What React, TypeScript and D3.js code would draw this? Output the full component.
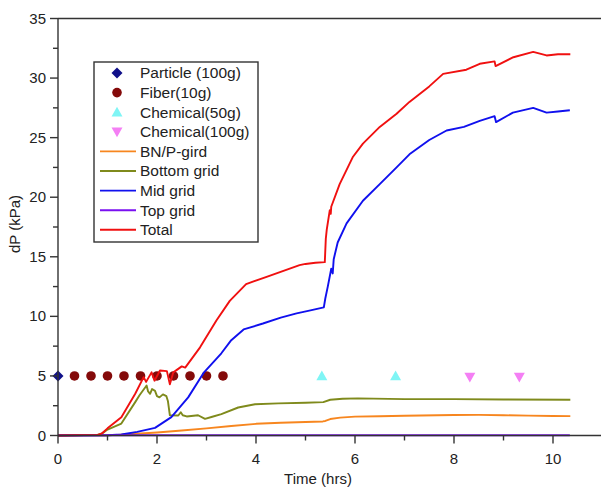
import React from "react";
import * as d3 from "d3";

const W = 601;
const H = 488;

// Scatter series (time in hrs, dP in kPa)
const particleT = [0];
const particleV = [5];
const fiberT = [0.333, 0.667, 1.0, 1.333, 1.667, 2.0, 2.333, 2.667, 3.0, 3.333];
const fiberV = [5, 5, 5, 5, 5, 5, 5, 5, 5, 5];
const chem50T = [5.33, 6.82];
const chem50V = [5.0, 5.0];
const chem100T = [8.32, 9.32];
const chem100V = [4.9, 4.9];

// Line series
const bnpT = [0, 1.0, 1.2, 1.5, 2.0, 2.5, 3.0, 3.5, 4.0, 4.5, 5.0, 5.35, 5.4, 5.5, 5.7, 6.0, 6.5, 7.0, 8.0, 8.5, 9.0, 9.5, 10.0, 10.35];
const bnpV = [0, 0.01, 0.05, 0.12, 0.25, 0.42, 0.6, 0.8, 0.98, 1.07, 1.13, 1.18, 1.22, 1.38, 1.5, 1.58, 1.62, 1.66, 1.72, 1.73, 1.7, 1.67, 1.64, 1.63];

const bottomT = [0, 0.8, 0.9, 1.0, 1.28, 1.56, 1.65, 1.79, 1.82, 1.86, 1.9, 1.96, 2.0, 2.05, 2.12, 2.19, 2.22, 2.26, 2.43, 2.48, 2.52, 2.6, 2.83, 2.97, 3.1, 3.3, 3.64, 3.98, 4.45, 5.0, 5.36, 5.5, 5.75, 6.06, 7.0, 8.0, 9.0, 10.35];
const bottomV = [0, 0.05, 0.2, 0.5, 1.0, 2.8, 3.4, 4.2, 3.7, 3.5, 3.9, 3.75, 3.3, 3.2, 3.45, 3.3, 2.9, 1.7, 1.68, 1.95, 1.7, 1.6, 1.7, 1.4, 1.55, 1.8, 2.35, 2.62, 2.7, 2.75, 2.8, 3.0, 3.08, 3.12, 3.05, 3.05, 3.02, 3.0];

const midT = [0, 1.0, 1.28, 1.6, 1.96, 2.29, 2.63, 2.95, 3.3, 3.5, 3.75, 4.14, 4.5, 4.82, 5.1, 5.37, 5.4, 5.45, 5.52, 5.55, 5.57, 5.65, 5.83, 6.16, 6.5, 6.84, 7.1, 7.5, 7.85, 8.2, 8.52, 8.82, 8.85, 9.19, 9.6, 9.87, 10.1, 10.34];
const midV = [0, 0.02, 0.08, 0.3, 0.64, 1.54, 3.2, 5.3, 6.9, 8.0, 8.9, 9.4, 9.9, 10.25, 10.5, 10.75, 11.5, 12.5, 14.0, 13.6, 14.8, 16.2, 17.8, 19.7, 21.1, 22.5, 23.6, 24.8, 25.6, 25.9, 26.4, 26.8, 26.3, 27.1, 27.5, 27.1, 27.2, 27.3];

const topT = [0, 10.34];
const topV = [0.02, 0.02];

const totalT = [0, 0.8, 0.88, 1.0, 1.28, 1.56, 1.73, 1.78, 1.89, 1.95, 2.06, 2.2, 2.26, 2.33, 2.5, 2.57, 2.87, 3.2, 3.47, 3.8, 4.2, 4.88, 5.0, 5.2, 5.39, 5.41, 5.43, 5.49, 5.51, 5.52, 5.69, 5.96, 6.16, 6.5, 6.84, 7.1, 7.5, 7.78, 8.25, 8.52, 8.82, 8.84, 9.2, 9.6, 9.87, 10.1, 10.35];
const totalV = [0, 0.05, 0.15, 0.6, 1.54, 3.5, 4.9, 4.5, 5.3, 4.6, 5.45, 5.4, 4.3, 5.3, 5.8, 5.7, 7.4, 9.65, 11.3, 12.7, 13.3, 14.3, 14.4, 14.5, 14.55, 16.5, 17.3, 18.9, 18.6, 19.2, 21.1, 23.4, 24.5, 25.9, 27.0, 28.0, 29.3, 30.35, 30.7, 31.2, 31.4, 31.0, 31.75, 32.2, 31.9, 32.0, 32.0];

const xMajor = [0, 2, 4, 6, 8, 10];
const xMinor = [1, 3, 5, 7, 9, 11];
const yMajor = [0, 5, 10, 15, 20, 25, 30, 35];
const yMinor = [2.5, 7.5, 12.5, 17.5, 22.5, 27.5, 32.5];

const legendLabels = ["Particle (100g)", "Fiber(10g)", "Chemical(50g)", "Chemical(100g)", "BN/P-gird", "Bottom grid", "Mid grid", "Top grid", "Total"];

const C = {
  particle: "#10108a",
  fiber: "#840a0a",
  chem50: "#7ff5f5",
  chem100: "#f47ff4",
  bnp: "#f7861f",
  bottom: "#7f8a1c",
  mid: "#1010ee",
  top: "#7a10f0",
  total: "#f01010",
  axis: "#333333",
};

const FONT = "'Liberation Sans', Arial, Helvetica, sans-serif";

const x = d3.scaleLinear().domain([0, 10]).range([58, 553]);
const y = d3.scaleLinear().domain([0, 35]).range([435.5, 18.5]);

const zip = (t: number[], v: number[]) => t.map((tt, i) => [tt, v[i]] as [number, number]);
const line = d3.line<[number, number]>().x((d) => x(d[0])).y((d) => y(d[1]));

function Marker({ kind, cx, cy, color }: { kind: string; cx: number; cy: number; color: string }) {
  if (kind === "diamond") {
    const s = 5.5;
    return <path d={`M${cx},${cy - s}L${cx + s},${cy}L${cx},${cy + s}L${cx - s},${cy}Z`} fill={color} />;
  }
  if (kind === "circle") return <circle cx={cx} cy={cy} r={4.8} fill={color} />;
  if (kind === "up") {
    const s = 5.5;
    return <path d={`M${cx},${cy - s}L${cx + s},${cy + s * 0.8}L${cx - s},${cy + s * 0.8}Z`} fill={color} />;
  }
  const s = 5.5;
  return <path d={`M${cx},${cy + s}L${cx + s},${cy - s * 0.8}L${cx - s},${cy - s * 0.8}Z`} fill={color} />;
}

export default function App() {
  const lines = [
    { t: bnpT, v: bnpV, c: C.bnp },
    { t: bottomT, v: bottomV, c: C.bottom },
    { t: midT, v: midV, c: C.mid },
    { t: topT, v: topV, c: C.top },
    { t: totalT, v: totalV, c: C.total },
  ];
  const scatters = [
    { t: particleT, v: particleV, c: C.particle, k: "diamond" },
    { t: fiberT, v: fiberV, c: C.fiber, k: "circle" },
    { t: chem50T, v: chem50V, c: C.chem50, k: "up" },
    { t: chem100T, v: chem100V, c: C.chem100, k: "down" },
  ];
  const legendKinds = [
    { k: "diamond", c: C.particle },
    { k: "circle", c: C.fiber },
    { k: "up", c: C.chem50 },
    { k: "down", c: C.chem100 },
    { k: "line", c: C.bnp },
    { k: "line", c: C.bottom },
    { k: "line", c: C.mid },
    { k: "line", c: C.top },
    { k: "line", c: C.total },
  ];
  const x0 = x(0);
  const y0 = y(0);
  const yTop = y(35);
  return (
    <svg width={W} height={H} style={{ position: "absolute", left: 0, top: 0, background: "#fff" }} fontFamily={FONT}>
      <rect x={0} y={0} width={W} height={H} fill="#fff" />
      {scatters.map((s, i) =>
        s.t.map((tt, j) => <Marker key={`${i}-${j}`} kind={s.k} cx={x(tt)} cy={y(s.v[j])} color={s.c} />)
      )}
      {lines.map((l, i) => (
        <path key={i} d={line(zip(l.t, l.v)) || ""} fill="none" stroke={l.c} strokeWidth={1.9} strokeLinejoin="round" />
      ))}
      <line x1={x0} x2={W + 2} y1={y0} y2={y0} stroke={C.axis} strokeWidth={1.4} />
      <line x1={x0} x2={W + 2} y1={yTop} y2={yTop} stroke={C.axis} strokeWidth={1.4} />
      <line x1={x0} x2={x0} y1={yTop} y2={y0} stroke={C.axis} strokeWidth={1.4} />
      {xMajor.map((t) => (
        <g key={`xM${t}`}>
          <line x1={x(t)} x2={x(t)} y1={y0} y2={y0 + 8} stroke={C.axis} strokeWidth={1.4} />
          <text x={x(t)} y={y0 + 28} textAnchor="middle" fontSize={15} fill="#222">{t}</text>
        </g>
      ))}
      {xMinor.map((t) => (
        <line key={`xm${t}`} x1={x(t)} x2={x(t)} y1={y0} y2={y0 + 5} stroke={C.axis} strokeWidth={1.4} />
      ))}
      {yMajor.map((v) => (
        <g key={`yM${v}`}>
          <line x1={x0 - 8} x2={x0} y1={y(v)} y2={y(v)} stroke={C.axis} strokeWidth={1.4} />
          <text x={x0 - 12} y={y(v) + 5} textAnchor="end" fontSize={15} fill="#222">{v}</text>
        </g>
      ))}
      {yMinor.map((v) => (
        <line key={`ym${v}`} x1={x0 - 5} x2={x0} y1={y(v)} y2={y(v)} stroke={C.axis} strokeWidth={1.4} />
      ))}
      <text x={318} y={484} textAnchor="middle" fontSize={15} fill="#222">Time (hrs)</text>
      <text transform={`translate(20,${(yTop + y0) / 2 - 3}) rotate(-90)`} textAnchor="middle" fontSize={15} fill="#222">dP (kPa)</text>
      <rect x={94} y={62} width={164} height={180} fill="#fff" stroke={C.axis} strokeWidth={1.4} />
      {legendLabels.map((lab, i) => {
        const cy = 73 + i * 19.6;
        const lk = legendKinds[i];
        return (
          <g key={lab}>
            {lk.k === "line" ? (
              <line x1={100} x2={136} y1={cy} y2={cy} stroke={lk.c} strokeWidth={1.9} />
            ) : (
              <Marker kind={lk.k} cx={117} cy={cy} color={lk.c} />
            )}
            <text x={140} y={cy + 5.4} fontSize={15.5} fill="#222">{lab}</text>
          </g>
        );
      })}
    </svg>
  );
}
